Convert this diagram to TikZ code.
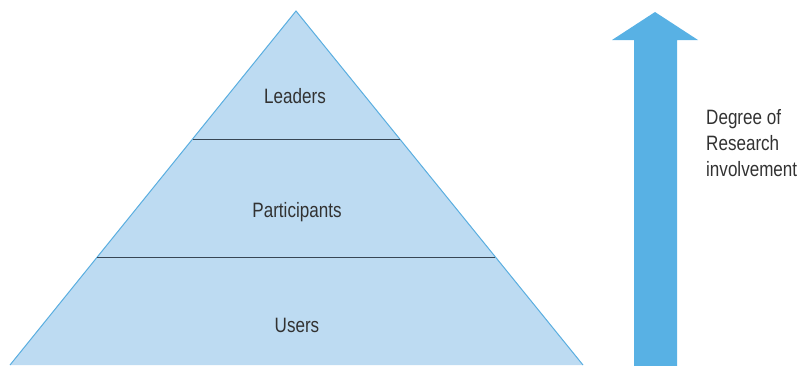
\documentclass[tikz,border=0pt]{standalone}
\usepackage{fontspec}
\setmainfont[FakeStretch=0.82]{Liberation Sans}
\definecolor{pyrfill}{RGB}{189,219,242}
\definecolor{pyredge}{RGB}{90,174,224}
\definecolor{arrfill}{RGB}{88,177,228}
\definecolor{divline}{RGB}{55,70,85}
\definecolor{txt}{RGB}{50,50,50}
\begin{document}
\begin{tikzpicture}[x=1pt,y=-1pt,
  lbl/.style={text=txt,font=\fontsize{20.8}{26}\selectfont,inner sep=0pt},
  divider/.style={draw=divline,line width=0.9pt}]
\useasboundingbox (0,0) rectangle (802,365);
\begin{scope}
\clip (0,0) rectangle (802,365);
\coordinate (apex) at (296,11);
\coordinate (bl) at (10,365);
\coordinate (br) at (583,365);
\fill[pyrfill] (apex) -- (bl) -- (br) -- cycle;
\draw[pyredge,line width=1pt] (bl) -- (apex) -- (br);
\coordinate (d1l) at (192.6,139);
\coordinate (d1r) at (399.8,139);
\coordinate (d2l) at (97.3,257);
\coordinate (d2r) at (495.4,257);
\draw[divider] (d1l) -- (d1r);
\draw[divider] (d2l) -- (d2r);
\fill[arrfill] (634,370) -- (634,40) -- (612,40) -- (655,12) -- (698,40) -- (677,40) -- (677,370) -- cycle;
\end{scope}
\node[lbl] (leaders) at (295,96) {Leaders};
\node[lbl] (participants) at (297,212) {Participants};
\node[lbl] (users) at (297,325) {Users};
\node[lbl,anchor=north west,align=left] (degree) at (706,109) {Degree of\\Research\\involvement};
\end{tikzpicture}
\end{document}
